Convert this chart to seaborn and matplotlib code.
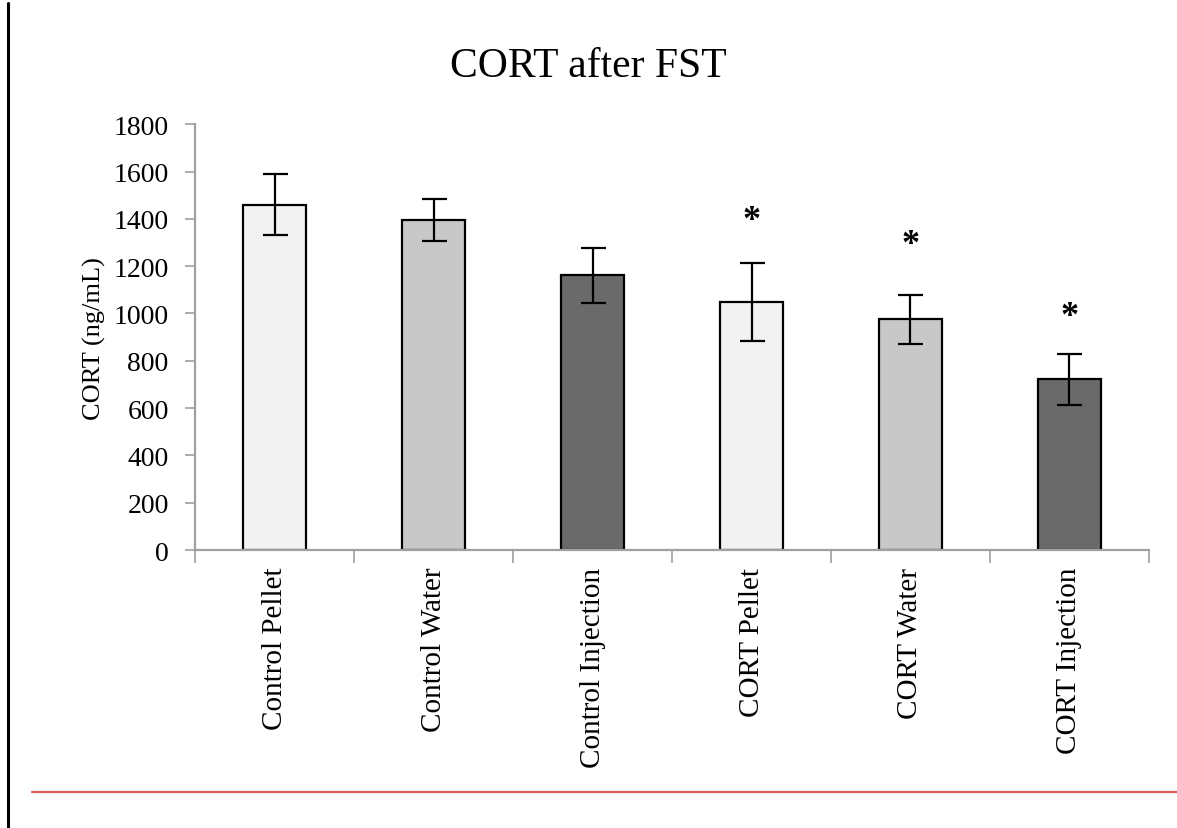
import matplotlib
matplotlib.use("Agg")
import matplotlib.pyplot as plt
import seaborn as sns
from matplotlib.lines import Line2D

groups = ["Control Pellet", "Control Water", "Control Injection",
          "CORT Pellet", "CORT Water", "CORT Injection"]
cort_mean = [1460, 1395, 1162, 1050, 975, 722]
cort_err = [130, 87, 116, 165, 103, 107]
bar_colors = ["#f2f2f2", "#c8c8c8", "#6a6a6a", "#f2f2f2", "#c8c8c8", "#6a6a6a"]
star_groups = ["CORT Pellet", "CORT Water", "CORT Injection"]
star_heights = [1428, 1326, 1023]

sns.set_style("white")
plt.rcParams["font.family"] = ["Liberation Serif", "DejaVu Serif"]
plt.rcParams["text.color"] = "black"
plt.rcParams["axes.labelcolor"] = "black"
plt.rcParams["xtick.labelcolor"] = "black"
plt.rcParams["ytick.labelcolor"] = "black"

fig = plt.figure(figsize=(11.77, 8.29), dpi=100)
ax = fig.add_axes([0.1657, 0.3353, 0.8105, 0.5136])

sns.barplot(x=groups, y=cort_mean, hue=groups, palette=bar_colors,
            legend=False, width=0.4, edgecolor="black", linewidth=1.6, ax=ax)
ax.errorbar(range(len(groups)), cort_mean, yerr=cort_err, fmt="none",
            ecolor="black", elinewidth=1.6, capsize=9, capthick=1.6)

for g, h in zip(star_groups, star_heights):
    ax.annotate("*", (groups.index(g), h), xytext=(0, -6),
                textcoords="offset points", ha="center", va="center",
                fontsize=26, fontweight="bold", color="black")

ax.set_ylim(0, 1800)
ax.set_xlim(-0.5, len(groups) - 0.5)
ax.set_yticks(range(0, 1801, 200))
ax.set_xticks(range(len(groups)))
ax.set_xticklabels(groups, rotation=90, fontsize=21)
ax.tick_params(axis="y", labelsize=20, length=7, width=1.2, color="#a0a0a0",
               direction="out", left=True, pad=12)
ax.tick_params(axis="x", length=0, pad=12)
# ticks between categories, like the original spreadsheet chart
ax.set_xticks([i - 0.5 for i in range(len(groups) + 1)], minor=True)
ax.tick_params(axis="x", which="minor", length=9, width=1.2, color="#a0a0a0",
               direction="out", bottom=True)

for side in ["top", "right"]:
    ax.spines[side].set_visible(False)
for side in ["left", "bottom"]:
    ax.spines[side].set_color("#a0a0a0")
    ax.spines[side].set_linewidth(1.6)

ax.set_ylabel("CORT (ng/mL)", fontsize=19, labelpad=5)
ax.set_xlabel("")
fig.text(0.4995, 0.907, "CORT after FST", ha="center", va="baseline", fontsize=30)

# page frame lines from the source document
fig.add_artist(Line2D([0.0072, 0.0072], [0.0, 0.995], color="black", linewidth=2.2,
                      transform=fig.transFigure))
fig.add_artist(Line2D([0.027, 1.0], [0.043, 0.043], color="#d65f58", linewidth=1.6,
                      transform=fig.transFigure))

fig.savefig("out.png", dpi=100)
